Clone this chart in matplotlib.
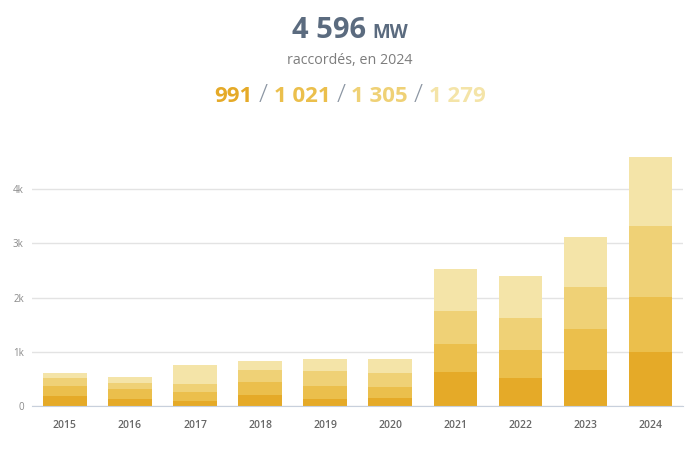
import matplotlib
matplotlib.use("Agg")
import matplotlib.pyplot as plt
import numpy as np

years = ["2015", "2016", "2017", "2018", "2019", "2020", "2021", "2022", "2023", "2024"]
seg1 = [180, 130, 90, 210, 130, 150, 630, 510, 670, 991]
seg2 = [190, 180, 160, 230, 240, 190, 520, 530, 750, 1021]
seg3 = [150, 120, 150, 230, 270, 270, 600, 590, 770, 1305]
seg4 = [90, 100, 360, 150, 220, 250, 770, 760, 930, 1279]
yticks = [0, 1000, 2000, 3000, 4000]
ytick_labels = ["0", "1k", "2k", "3k", "4k"]

colors = ["#e5aa28", "#ebbf4c", "#efd176", "#f4e4a8"]
slate = "#5b6b7f"

plt.rcParams["font.family"] = ["Open Sans", "DejaVu Sans"]

fig = plt.figure(figsize=(7, 4.5), dpi=100)
ax = fig.add_axes([0.046, 0.098, 0.930, 0.566])

x = np.arange(len(years))
bottom = np.zeros(len(years))
for vals, c in zip([seg1, seg2, seg3, seg4], colors):
    ax.bar(x, vals, width=0.67, bottom=bottom, color=c, zorder=2)
    bottom += np.array(vals)

ax.set_xlim(-0.5, len(years) - 0.5)
ax.set_ylim(0, 4700)
ax.set_yticks(yticks)
ax.set_yticklabels(ytick_labels, fontsize=7, color="#8a8a8a")
ax.set_xticks(x)
ax.set_xticklabels(years, fontsize=7.5, color="#666666", fontweight="semibold")
ax.tick_params(axis="both", length=0)
ax.tick_params(axis="y", pad=6)
ax.tick_params(axis="x", pad=10)
ax.grid(axis="y", color="#e3e3e3", linewidth=1, zorder=0)
for s in ["top", "right", "left"]:
    ax.spines[s].set_visible(False)
ax.spines["bottom"].set_color("#c8d0dc")
ax.spines["bottom"].set_zorder(3)


def centered_line(parts, y, gap=0):
    # parts: list of (text, kwargs); laid out side by side with a gap (px), centred
    texts = [fig.text(0, y, t, va="baseline", ha="left", **kw) for t, kw in parts]
    r = fig.canvas.get_renderer()
    g = gap / fig.bbox.width
    widths = [t.get_window_extent(r).width / fig.bbox.width for t in texts]
    pos = 0.5 - (sum(widths) + g * (len(texts) - 1)) / 2
    for t, w in zip(texts, widths):
        t.set_x(pos)
        pos += w + g


def fmt(v):
    return f"{v:,}".replace(",", " ")


last = [seg1[-1], seg2[-1], seg3[-1], seg4[-1]]
total = sum(last)

centered_line([(fmt(total), dict(fontsize=21, fontweight="bold", color=slate)),
               ("MW", dict(fontsize=13.5, fontweight="bold", color=slate))], 0.915, gap=6)
fig.text(0.5, 0.857, "raccordés, en " + years[-1], ha="center", va="baseline",
         fontsize=10.3, color="#7d7d7d")

parts = []
for i, (v, c) in enumerate(zip(last, colors)):
    if i > 0:
        parts.append(("/", dict(fontsize=19, fontweight="light", color="#8c96a3")))
    parts.append((fmt(v), dict(fontsize=16, fontweight="bold", color=c)))
centered_line(parts, 0.773, gap=6)

fig.savefig("out.png", dpi=100)
